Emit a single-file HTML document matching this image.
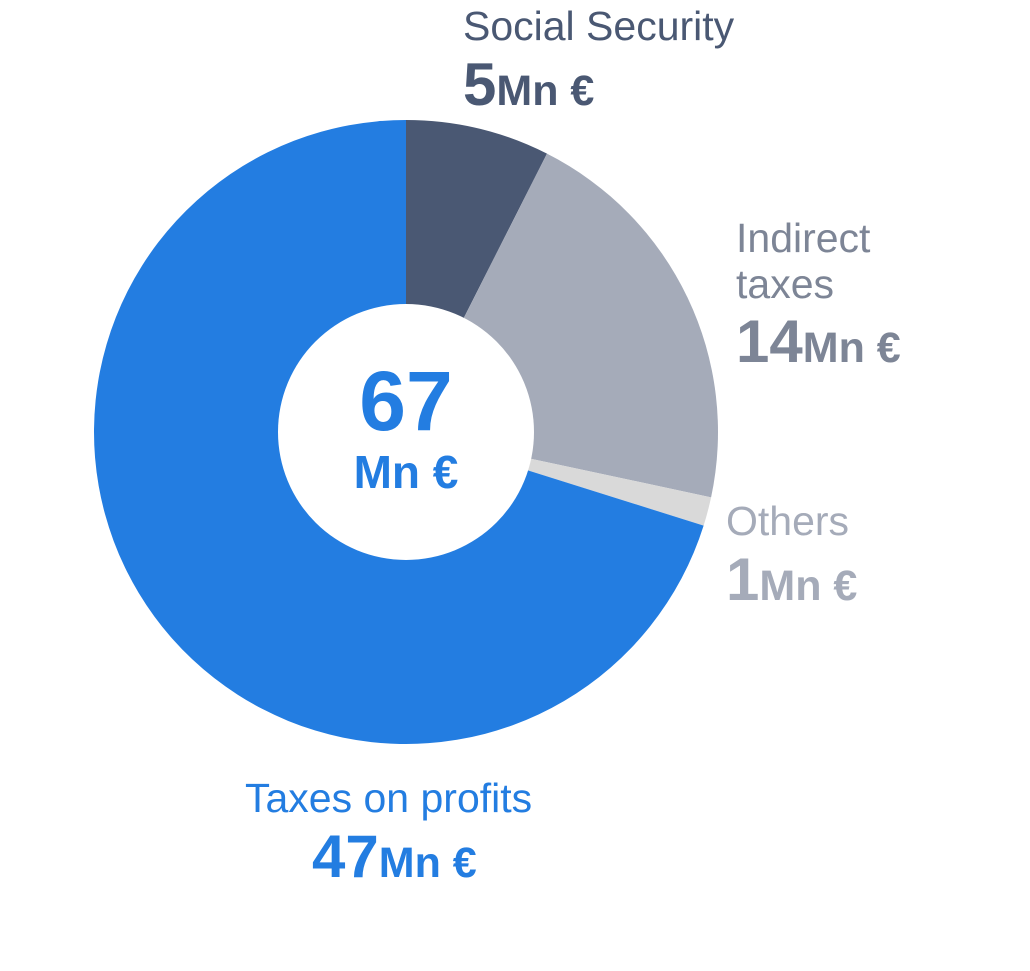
<!DOCTYPE html>
<html><head><meta charset="utf-8"><style>
html,body{margin:0;padding:0;background:#fff;}
svg text{font-family:"Liberation Sans",sans-serif;}
</style></head><body>
<svg id="chart" width="1030" height="966" viewBox="0 0 1030 966" xmlns="http://www.w3.org/2000/svg">
<g id="slices"></g>
<circle cx="406" cy="432" r="128" fill="#fff"/>
<g>
<text x="406" y="430" text-anchor="middle" font-size="84" font-weight="bold" fill="#237de1">67</text>
<text x="406" y="488" text-anchor="middle" font-size="46" font-weight="bold" fill="#237de1">Mn €</text>
</g>
<g id="labels"></g>
</svg>
<script>
const categories=["Social Security","Indirect taxes","Others","Taxes on profits"];
const values=[5,14,1,47];
const sliceColors=["#4a5873","#a5abb9","#d9d9d9","#237de1"];
const labelColors=["#4a5873","#7d8596","#a5abb9","#237de1"];
const cx=406,cy=432,R=312;
const NS="http://www.w3.org/2000/svg";
const total=values.reduce((a,b)=>a+b,0);
function pt(a,r){return [cx+r*Math.sin(a),cy-r*Math.cos(a)];}
let acc=0;
const g=document.getElementById('slices');
values.forEach((v,i)=>{
 const a0=acc/total*2*Math.PI; acc+=v; const a1=acc/total*2*Math.PI;
 const p0=pt(a0,R),p1=pt(a1,R);
 const large=(a1-a0)>Math.PI?1:0;
 const p=document.createElementNS(NS,'path');
 p.setAttribute('d',`M${cx},${cy} L${p0[0]},${p0[1]} A${R},${R} 0 ${large} 1 ${p1[0]},${p1[1]} Z`);
 p.setAttribute('fill',sliceColors[i]);
 
 
 g.appendChild(p);
});
// label layout: [x, name lines baselines..., value baseline]
const layout=[{x:463,lines:[40],vy:105},{x:736,lines:[252,298],vy:362},{x:726,lines:[535],vy:600},{x:245,lines:[812],vy:877,vx:312}];
const nameLines=[["Social Security"],["Indirect","taxes"],["Others"],["Taxes on profits"]];
const lg=document.getElementById('labels');
layout.forEach((L,i)=>{
 const grp=document.createElementNS(NS,'g');
 
 
 nameLines[i].forEach((s,j)=>{
  const t=document.createElementNS(NS,'text');
  t.setAttribute('x',L.x);t.setAttribute('y',L.lines[j]);
  t.setAttribute('font-size','41');t.setAttribute('fill',labelColors[i]);
  
  
  t.textContent=s;grp.appendChild(t);
 });
 const t=document.createElementNS(NS,'text');
 t.setAttribute('x',L.vx||L.x);t.setAttribute('y',L.vy);
 t.setAttribute('font-weight','bold');t.setAttribute('fill',labelColors[i]);
 
 
 const n=document.createElementNS(NS,'tspan');n.setAttribute('font-size','60');n.textContent=values[i];
 const u=document.createElementNS(NS,'tspan');u.setAttribute('font-size','43');u.textContent='Mn €';
 t.appendChild(n);t.appendChild(u);grp.appendChild(t);
 lg.appendChild(grp);
});
</script>
</body></html>
